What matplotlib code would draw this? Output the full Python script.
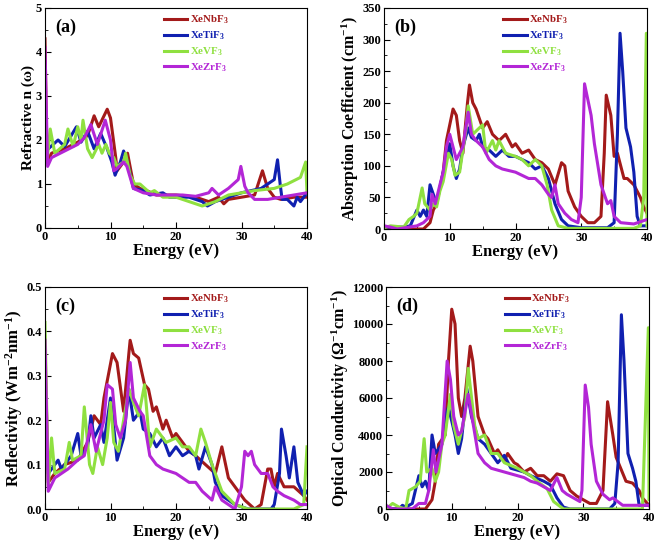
import matplotlib
matplotlib.use("Agg")
import matplotlib.pyplot as plt
from matplotlib.ticker import MultipleLocator

plt.rcParams['font.family'] = ['Liberation Serif', 'DejaVu Serif']
plt.rcParams['font.weight'] = 'bold'
plt.rcParams['mathtext.fontset'] = 'custom'
plt.rcParams['mathtext.rm'] = 'Liberation Serif:bold'
plt.rcParams['mathtext.it'] = 'Liberation Serif:bold'
plt.rcParams['mathtext.bf'] = 'Liberation Serif:bold'

names = ['XeNbF$_3$', 'XeTiF$_3$', 'XeVF$_3$', 'XeZrF$_3$']
colors = ['#a31a1a', '#1020b0', '#8fe040', '#b326d6']

# ---- (a) refractive index n(w) ----
a_nb_e = [0, 0.3, 1, 3, 5, 6.5, 7.5, 8.2, 9.5, 10, 10.8, 11, 12, 12.6, 13.5, 14.5, 15.5, 17, 20, 23, 25, 26.5, 27.3, 28, 30, 32, 33.2, 34, 35, 36, 38, 40]
a_nb_v = [4.3, 1.5, 1.7, 1.8, 1.95, 2.1, 2.55, 2.3, 2.7, 2.5, 1.6, 1.3, 1.5, 1.7, 1.0, 0.9, 0.85, 0.75, 0.75, 0.7, 0.6, 0.7, 0.55, 0.65, 0.7, 0.75, 1.3, 0.9, 0.7, 0.65, 0.7, 0.7]
a_ti_e = [0, 0.5, 2, 3, 4.8, 5.5, 6.5, 7.5, 8.5, 9.5, 10.2, 10.7, 11.5, 12, 12.5, 13.5, 15, 16, 18, 19, 22, 24, 24.8, 26, 28, 30, 33, 35, 35.5, 35.9, 36.2, 37, 38, 38.5, 39, 40]
a_ti_v = [2.2, 1.8, 2.0, 1.85, 2.3, 1.95, 2.2, 1.8, 2.15, 1.8, 1.5, 1.2, 1.5, 1.75, 1.55, 0.9, 0.85, 0.75, 0.8, 0.7, 0.7, 0.6, 0.5, 0.6, 0.7, 0.8, 0.9, 1.1, 1.55, 1.0, 0.65, 0.65, 0.5, 0.7, 0.6, 0.8]
a_v_e = [0, 0.3, 0.8, 1.5, 3, 3.5, 4.3, 5, 5.5, 5.8, 6.5, 7.2, 8.2, 8.7, 9.3, 9.8, 10.5, 11, 12, 12.3, 13, 13.7, 14.5, 16, 16.7, 18, 20, 22, 24, 26, 28, 32, 35, 37, 39, 39.8, 40]
a_v_v = [2.0, 1.5, 2.25, 1.7, 1.9, 2.25, 1.85, 2.3, 2.0, 2.45, 1.8, 1.6, 1.9, 1.7, 1.9, 1.7, 1.6, 1.4, 1.5, 1.7, 1.2, 1.0, 1.0, 0.8, 0.85, 0.7, 0.7, 0.6, 0.5, 0.6, 0.75, 0.85, 0.9, 1.0, 1.15, 1.5, 0.8]
a_zr_e = [0, 0.4, 1, 3, 5, 6, 7, 8, 9.2, 10, 10.5, 11, 12, 12.5, 13.5, 15, 17, 21, 23, 25, 25.5, 26.5, 28, 29.5, 29.9, 30.5, 31, 32, 34, 36, 38, 40]
a_zr_v = [4.1, 1.4, 1.6, 1.75, 1.9, 2.05, 2.35, 1.9, 2.45, 2.0, 1.3, 1.35, 1.5, 1.4, 0.9, 0.8, 0.75, 0.75, 0.72, 0.8, 0.9, 0.75, 0.9, 1.1, 1.4, 0.95, 0.8, 0.65, 0.65, 0.7, 0.75, 0.8]

# ---- (b) absorption coefficient ----
b_nb_e = [0, 6, 7, 7.5, 8, 9, 9.5, 10.5, 11, 11.5, 12, 12.7, 13, 13.5, 14, 15, 15.7, 16.5, 17.5, 18.5, 19.5, 20, 21, 22, 23, 24, 25, 26, 27, 27.5, 28, 29, 30, 31, 32, 33, 33.5, 33.8, 34.5, 35, 35.5, 36.5, 37, 38, 39, 39.5, 40]
b_nb_v = [0, 0, 10, 30, 40, 90, 140, 190, 180, 140, 120, 200, 228, 200, 190, 160, 170, 150, 140, 150, 130, 135, 120, 125, 110, 105, 95, 70, 105, 100, 60, 35, 20, 10, 10, 20, 120, 212, 180, 115, 120, 80, 80, 70, 50, 35, 25]
b_ti_e = [0, 3, 4, 5, 5.5, 6, 6.5, 7, 7.5, 8, 9, 9.7, 10, 10.5, 11, 11.5, 12, 12.8, 13.3, 14, 14.5, 15, 16, 17, 18, 19, 20, 21, 22, 23, 24, 25, 26, 27, 28, 30, 34, 35, 35.5, 35.9, 36.3, 36.8, 37.5, 38, 38.5, 39, 40]
b_ti_v = [3, 3, 5, 30, 20, 30, 20, 70, 55, 40, 90, 120, 135, 100, 80, 95, 130, 160, 145, 140, 150, 130, 125, 115, 125, 115, 115, 110, 105, 95, 100, 80, 40, 15, 5, 2, 2, 10, 150, 310, 250, 160, 130, 90, 20, 5, 5]
b_v_e = [0, 1, 3, 3.8, 4.5, 5, 5.8, 6.2, 7, 7.5, 8, 8.5, 9, 9.8, 10.3, 10.8, 11.5, 12.5, 12.8, 13.5, 14.5, 15, 15.5, 16.5, 17, 17.5, 18.5, 20, 21, 22, 23, 24, 24.8, 25.5, 26.5, 28, 38, 39, 39.5, 39.9, 40]
b_v_v = [2, 5, 3, 15, 20, 25, 65, 40, 30, 40, 35, 60, 75, 120, 110, 85, 90, 160, 195, 150, 160, 165, 120, 140, 125, 140, 120, 115, 110, 100, 110, 100, 70, 30, 5, 1, 1, 5, 50, 310, 5]
b_zr_e = [0, 1, 2, 5, 6, 7, 7.3, 7.8, 8.5, 9, 9.5, 10, 10.5, 11, 12, 12.8, 13.3, 14, 15, 16, 17, 18, 20, 21, 22, 23, 24, 25, 25.5, 26, 26.5, 27.5, 28.5, 29.5, 30, 30.5, 31.5, 32, 33, 34, 34.5, 35, 36, 38, 40]
b_zr_v = [5, 3, 0, 5, 10, 20, 55, 40, 70, 90, 130, 150, 130, 110, 130, 185, 150, 140, 130, 110, 100, 95, 90, 85, 80, 80, 70, 55, 50, 70, 40, 25, 15, 10, 50, 230, 180, 135, 70, 40, 45, 20, 10, 8, 15]

# ---- (c) reflectivity ----
c_nb_e = [0, 0.5, 1.5, 3, 5, 6.5, 7.5, 8.5, 9, 10.3, 11, 12, 12.8, 13, 13.5, 14.3, 15.2, 15.8, 16.5, 17, 18, 18.5, 19.5, 20, 21, 22, 23, 24.5, 26, 27, 28, 29, 30.5, 32, 33, 34, 34.5, 35, 35.5, 36.5, 38, 39.5, 40]
c_nb_v = [0.35, 0.06, 0.08, 0.1, 0.11, 0.15, 0.21, 0.19, 0.25, 0.35, 0.33, 0.22, 0.35, 0.38, 0.35, 0.34, 0.28, 0.27, 0.22, 0.23, 0.18, 0.2, 0.16, 0.17, 0.15, 0.13, 0.12, 0.1, 0.08, 0.14, 0.07, 0.05, 0.02, 0.0, 0.01, 0.09, 0.09, 0.05, 0.08, 0.05, 0.05, 0.03, 0.02]
c_ti_e = [0, 0.5, 2, 2.5, 4, 5, 5.5, 6.5, 7, 7.5, 8.5, 9, 10, 10.6, 11, 12, 12.8, 13.5, 14.5, 15, 16, 17, 18, 19, 20, 21, 22, 23, 23.5, 24.5, 25.5, 26, 27, 29, 31, 34.5, 35, 35.8, 36.1, 36.8, 37.3, 38, 38.6, 39.5, 40]
c_ti_v = [0.15, 0.08, 0.11, 0.09, 0.12, 0.17, 0.12, 0.14, 0.21, 0.16, 0.19, 0.15, 0.25, 0.17, 0.11, 0.16, 0.27, 0.2, 0.22, 0.18, 0.17, 0.14, 0.16, 0.12, 0.14, 0.12, 0.13, 0.12, 0.09, 0.14, 0.1, 0.06, 0.03, 0.01, 0.0, 0.0, 0.01, 0.08, 0.18, 0.12, 0.07, 0.14, 0.06, 0.03, 0.04]
c_v_e = [0, 0.5, 1, 1.5, 3, 3.7, 4.2, 5.5, 6, 6.8, 7.3, 8, 8.8, 9.5, 10, 10.5, 11.2, 12, 12.8, 13.5, 14.3, 15.2, 16, 17, 18.5, 20, 21, 22, 23, 23.8, 24.5, 25.5, 27, 29, 31, 38, 39.5, 40]
c_v_v = [0.42, 0.05, 0.16, 0.08, 0.09, 0.15, 0.11, 0.12, 0.23, 0.1, 0.08, 0.14, 0.1, 0.16, 0.24, 0.15, 0.13, 0.2, 0.27, 0.24, 0.21, 0.28, 0.14, 0.18, 0.15, 0.16, 0.14, 0.14, 0.12, 0.18, 0.15, 0.1, 0.04, 0.01, 0.0, 0.0, 0.01, 0.14]
c_zr_e = [0, 0.5, 1.5, 3.5, 5, 6, 7, 7.8, 9, 9.5, 10.3, 10.8, 11.5, 12.3, 13, 13.5, 14.5, 15, 16, 17, 18, 20, 21, 22, 23, 24, 25.5, 26, 27, 28, 29, 30, 30.5, 31, 31.5, 32, 33, 34, 34.8, 35.5, 36.5, 38, 39, 40]
c_zr_v = [0.38, 0.04, 0.07, 0.09, 0.11, 0.12, 0.19, 0.13, 0.2, 0.28, 0.27, 0.19, 0.16, 0.2, 0.33, 0.25, 0.22, 0.21, 0.12, 0.1, 0.09, 0.08, 0.07, 0.06, 0.06, 0.04, 0.02, 0.05, 0.02, 0.01, 0.0, 0.05, 0.13, 0.12, 0.13, 0.1, 0.08, 0.08, 0.05, 0.04, 0.03, 0.02, 0.01, 0.01]

# ---- (d) optical conductivity ----
d_nb_e = [0, 6, 7, 7.5, 8, 9, 9.5, 10, 10.5, 11, 11.5, 12, 12.8, 13.2, 14, 15, 15.5, 16.5, 17, 18, 18.5, 19.5, 20, 21, 22, 23, 24, 25, 26, 27, 28, 29, 30, 31, 32, 33, 33.7, 34.5, 35, 36.5, 37.5, 38.5, 39, 40]
d_nb_v = [0, 0, 500, 1500, 3500, 4000, 8000, 10800, 10000, 6000, 5000, 6000, 8800, 8000, 5000, 4000, 3800, 3000, 3200, 2600, 3000, 2500, 2400, 2000, 2200, 1800, 1800, 1500, 1900, 1800, 1000, 700, 500, 300, 300, 1000, 5800, 4000, 2800, 1500, 1400, 1000, 600, 200]
d_ti_e = [0, 2, 2.5, 3, 4, 5, 5.5, 6, 6.5, 7, 7.5, 8.5, 9, 9.5, 10.5, 11, 11.5, 12.3, 13, 14, 15, 16, 17, 18, 19, 21, 22, 24, 25, 26, 27, 28, 34, 34.8, 35.3, 35.8, 36.2, 36.8, 37.5, 38, 38.5, 40]
d_ti_v = [0, 0, 200, 100, 300, 1800, 1200, 1500, 1000, 4000, 3000, 3500, 5000, 5500, 4000, 3000, 3800, 6500, 5000, 3800, 3500, 3000, 2500, 2900, 2200, 2000, 1800, 1500, 1300, 600, 100, 0, 0, 300, 2500, 10500, 8000, 3000, 2200, 1500, 200, 200]
d_v_e = [0, 1, 2, 3, 3.5, 4.5, 5.2, 5.8, 6.2, 7, 7.5, 8, 8.5, 9, 9.8, 10.3, 11, 12, 12.5, 13.5, 14, 15, 16, 17, 18, 20, 21, 22, 23, 24.5, 25.5, 27, 39, 39.9, 40]
d_v_v = [0, 300, 100, 0, 1000, 1200, 1500, 3800, 2000, 2200, 1500, 2000, 3500, 4000, 6200, 4500, 3500, 5000, 7600, 4500, 3800, 4000, 3000, 3000, 2500, 2200, 2000, 1800, 1500, 1100, 400, 0, 0, 9800, 500]
d_zr_e = [0, 1, 4, 5, 6, 6.5, 7.2, 7.6, 8.5, 9.3, 9.8, 10.3, 11, 11.5, 12.5, 13.3, 14, 15, 16, 17, 18, 20, 21, 22, 23, 24, 25, 26, 26.8, 27.5, 28.5, 29.5, 29.8, 30.3, 30.8, 31.2, 32, 33, 34, 34.5, 36, 38, 40]
d_zr_v = [200, 0, 0, 300, 300, 1000, 3200, 2000, 3500, 8000, 7000, 5000, 4000, 4200, 6200, 4500, 3000, 2500, 2200, 2100, 2000, 1800, 1700, 1500, 1400, 1200, 1000, 1700, 1000, 800, 600, 400, 1000, 6700, 5500, 3500, 1500, 800, 500, 600, 200, 200, 200]

W, H = 658, 545
fig = plt.figure(figsize=(W / 100, H / 100), dpi=100)

def add_panel(px, tag, series, ylim, ymaj, ymin, ylabel, ysize):
    x0, y0, x1, y1 = px
    ax = fig.add_axes([x0 / W, 1 - y1 / H, (x1 - x0) / W, (y1 - y0) / H])
    for (e, v), c, n in zip(series, colors, names):
        ax.plot(e, v, color=c, lw=2.2, label=n)
    ax.set_xlim(0, 40)
    ax.set_ylim(*ylim)
    ax.xaxis.set_major_locator(MultipleLocator(10))
    ax.xaxis.set_minor_locator(MultipleLocator(5))
    ax.yaxis.set_major_locator(MultipleLocator(ymaj))
    ax.yaxis.set_minor_locator(MultipleLocator(ymin))
    ax.tick_params(which='both', direction='in', labelsize=9, pad=2)
    ax.tick_params(which='major', length=4)
    ax.tick_params(which='minor', length=2)
    for lab in ax.get_xticklabels() + ax.get_yticklabels():
        lab.set_fontweight('bold')
    ax.set_xlabel('Energy (eV)', fontsize=12, fontweight='bold', labelpad=0)
    ax.set_ylabel(ylabel, fontsize=ysize, fontweight='bold', labelpad=1)
    ax.text(0.04, 0.95, tag, transform=ax.transAxes, fontsize=13,
            fontweight='bold', va='top')
    leg = ax.legend(loc='upper left', bbox_to_anchor=(0.43, 1.0), frameon=False,
                    fontsize=7.8, handlelength=2.2, handletextpad=0.2,
                    labelspacing=0.3, borderaxespad=0.15)
    for t, c in zip(leg.get_texts(), colors):
        t.set_color(c)
        t.set_fontweight('bold')
    return ax

add_panel((45, 8, 307, 228), '(a)',
          [(a_nb_e, a_nb_v), (a_ti_e, a_ti_v), (a_v_e, a_v_v), (a_zr_e, a_zr_v)],
          (0, 5), 1, 0.5, 'Refractive n (\u03c9)', 11)
add_panel((384, 8, 647, 229), '(b)',
          [(b_nb_e, b_nb_v), (b_ti_e, b_ti_v), (b_v_e, b_v_v), (b_zr_e, b_zr_v)],
          (0, 350), 50, 25, 'Absorption Coefficient (cm$^{-1}$)', 11.5)
add_panel((45, 287, 307, 509), '(c)',
          [(c_nb_e, c_nb_v), (c_ti_e, c_ti_v), (c_v_e, c_v_v), (c_zr_e, c_zr_v)],
          (0, 0.5), 0.1, 0.05, 'Reflectivity (Wm$^{-2}$nm$^{-1}$)', 12)
add_panel((386, 287, 649, 509), '(d)',
          [(d_nb_e, d_nb_v), (d_ti_e, d_ti_v), (d_v_e, d_v_v), (d_zr_e, d_zr_v)],
          (0, 12000), 2000, 1000, 'Optical Conductivity (\u03a9$^{-1}$cm$^{-1}$)', 11.5)

fig.savefig('out.png', dpi=100)
